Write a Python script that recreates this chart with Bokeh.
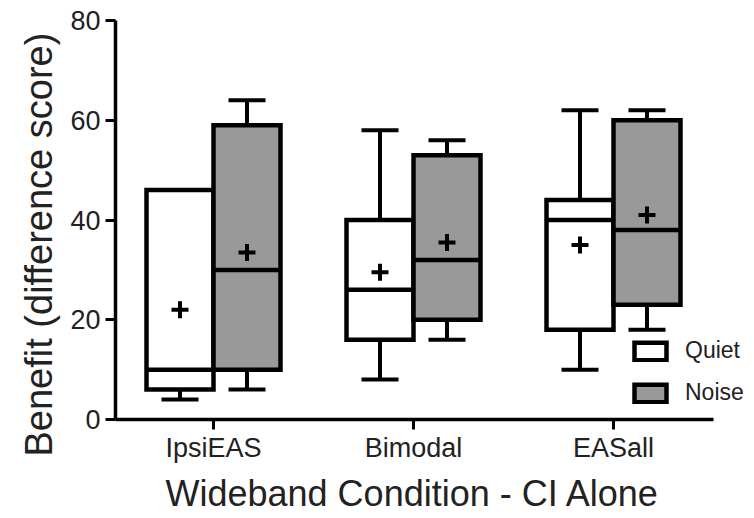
from bokeh.plotting import figure
from bokeh.models import Range1d, FixedTicker, Legend, LegendItem, ColumnDataSource, Title
from bokeh.embed import file_html
from bokeh.resources import INLINE

categories = ["IpsiEAS", "Bimodal", "EASall"]

quiet_min = [4, 8, 10]
quiet_q1 = [6, 16, 18]
quiet_median = [10, 26, 40]
quiet_q3 = [46, 40, 44]
quiet_max = [46, 58, 62]
quiet_mean = [22, 29.5, 35]

noise_min = [6, 16, 18]
noise_q1 = [10, 20, 23]
noise_median = [30, 32, 38]
noise_q3 = [59, 53, 60]
noise_max = [64, 56, 62]
noise_mean = [33.5, 35.5, 41]

y_ticks = [0, 20, 40, 60, 80]

FONT = "Liberation Sans"
TXT = "#222222"
BOX_W = 0.335
CAP_W = 0.185
OFF = 0.1675

p = figure(width=754, height=518, output_backend="svg", toolbar_location=None,
           x_range=Range1d(0.51, 3.705), y_range=Range1d(0, 80),
           min_border_left=115, min_border_right=0, min_border_top=20, min_border_bottom=97)
p.outline_line_color = None
p.xgrid.visible = False
p.ygrid.visible = False
p.background_fill_color = "white"
p.border_fill_color = "white"


def draw_group(offset, mins, q1, med, q3, maxs, means, fill):
    xs = [i + 1 + offset for i in range(len(categories))]
    src = ColumnDataSource(dict(x=xs, q1=q1, q3=q3, med=med, mn=mins, mx=maxs, mean=means,
                                xl=[x - BOX_W / 2 for x in xs], xr=[x + BOX_W / 2 for x in xs],
                                cl=[x - CAP_W / 2 for x in xs], cr=[x + CAP_W / 2 for x in xs]))
    # whiskers
    p.segment(x0="x", y0="q3", x1="x", y1="mx", source=src, line_color="black", line_width=4)
    p.segment(x0="x", y0="q1", x1="x", y1="mn", source=src, line_color="black", line_width=4)
    p.segment(x0="cl", y0="mx", x1="cr", y1="mx", source=src, line_color="black", line_width=4)
    p.segment(x0="cl", y0="mn", x1="cr", y1="mn", source=src, line_color="black", line_width=4)
    r = p.vbar(x="x", width=BOX_W, bottom="q1", top="q3", source=src, fill_color=fill,
               line_color="black", line_width=4.5, line_join="miter")
    p.segment(x0="xl", y0="med", x1="xr", y1="med", source=src, line_color="black", line_width=4.5)
    p.scatter(x="x", y="mean", source=src, marker="cross", size=17, line_width=4,
              line_color="black")
    return r


rq = draw_group(-OFF, quiet_min, quiet_q1, quiet_median, quiet_q3, quiet_max, quiet_mean, "white")
rn = draw_group(OFF, noise_min, noise_q1, noise_median, noise_q3, noise_max, noise_mean, "#999999")

legend = Legend(items=[LegendItem(label="Quiet", renderers=[rq]),
                       LegendItem(label="Noise", renderers=[rn])],
                location=(515, 13), orientation="vertical",
                glyph_width=40, glyph_height=22, spacing=15, label_standoff=15,
                padding=0, margin=0, border_line_color=None, background_fill_alpha=0,
                label_text_font=FONT, label_text_font_size="23px", label_text_color=TXT)
p.add_layout(legend, "center")

for ax in (p.xaxis[0], p.yaxis[0]):
    ax.axis_line_width = 3.5
    ax.axis_line_color = "black"
    ax.major_tick_line_width = 3
    ax.major_tick_line_color = "black"
    ax.major_tick_in = 0
    ax.major_tick_out = 10
    ax.minor_tick_line_color = None
    ax.major_label_text_font = FONT
    ax.major_label_text_font_size = "27px"
    ax.major_label_text_color = TXT

p.xaxis.bounds = (0.51, 3.5)
p.xaxis.ticker = FixedTicker(ticks=[1, 2, 3])
p.xaxis.major_label_overrides = {i + 1: c for i, c in enumerate(categories)}
p.xaxis.major_label_standoff = 3

p.yaxis.ticker = FixedTicker(ticks=y_ticks)
p.yaxis.major_label_standoff = 5

x_title = Title(text="Wideband Condition - CI Alone", align="left", offset=50,
                text_font=FONT, text_font_size="36px", text_font_style="normal",
                text_color=TXT, standoff=10)
p.add_layout(x_title, "below")

y_title = Title(text="Benefit (difference score)", align="left", offset=-37,
                text_font=FONT, text_font_size="38px", text_font_style="normal",
                text_color=TXT, standoff=15)
p.add_layout(y_title, "left")

open("out.html", "w").write(file_html(p, INLINE))
